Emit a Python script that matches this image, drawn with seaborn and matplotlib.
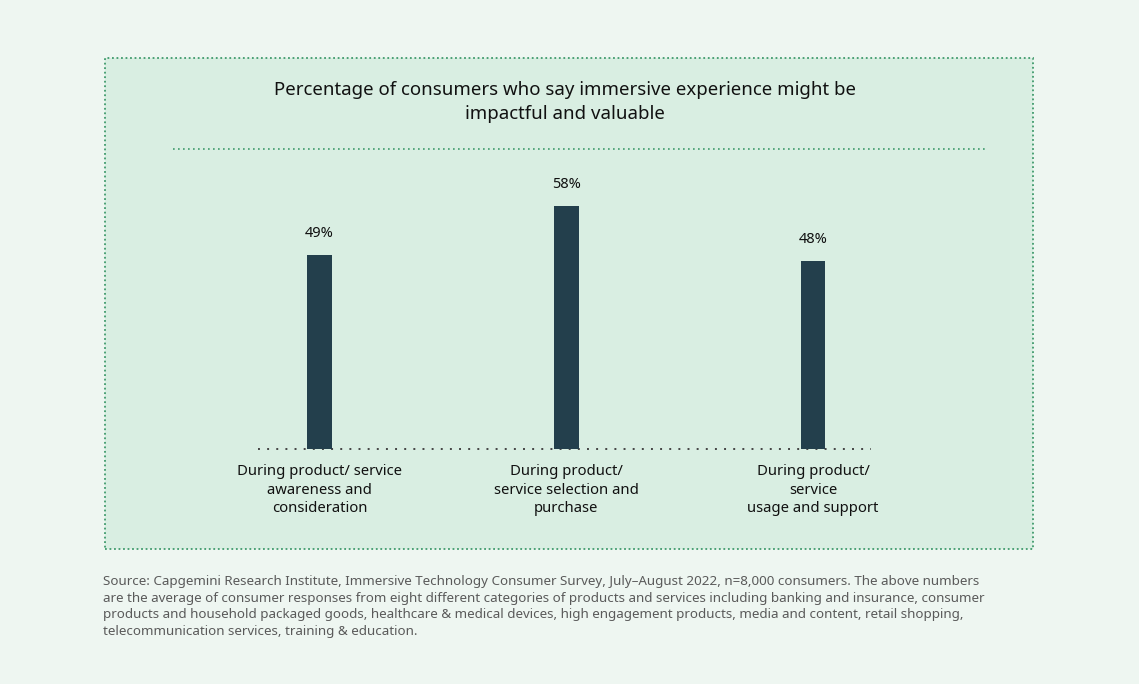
import matplotlib
matplotlib.use("Agg")
import matplotlib.pyplot as plt
from matplotlib.patches import Rectangle
from matplotlib.lines import Line2D
import seaborn as sns
import pandas as pd

# data
stages = ["During product/ service\nawareness and\nconsideration",
          "During product/\nservice selection and\npurchase",
          "During product/\nservice\nusage and support"]
shares = [49, 58, 48]
value_labels = ["49%", "58%", "48%"]

title = "Percentage of consumers who say immersive experience might be\nimpactful and valuable"
source = ("Source: Capgemini Research Institute, Immersive Technology Consumer Survey, July\u2013August 2022, n=8,000 consumers. The above numbers\n"
          "are the average of consumer responses from eight different categories of products and services including banking and insurance, consumer\n"
          "products and household packaged goods, healthcare & medical devices, high engagement products, media and content, retail shopping,\n"
          "telecommunication services, training & education.")

sns.set_theme(style="white")
plt.rcParams['font.family'] = ['Noto Sans', 'DejaVu Sans']

outer_bg = "#eef6f1"
inner_bg = "#d9eee2"
green = "#3f9a6c"
bar_col = "#233f4c"

W, H = 1139, 684
fig = plt.figure(figsize=(W / 100, H / 100), dpi=100)
fig.patch.set_facecolor(outer_bg)

# inner panel with dotted border
panel = Rectangle((105 / W, 1 - 549 / H), (1033 - 105) / W, (549 - 58) / H,
                  transform=fig.transFigure, facecolor=inner_bg,
                  edgecolor=green, linewidth=1.3, linestyle=(0, (1, 1.5)), zorder=-5)
fig.add_artist(panel)

# separator under the title
fig.add_artist(Line2D([173 / W, 986 / W], [1 - 149 / H, 1 - 149 / H], transform=fig.transFigure,
                      color=green, linewidth=1.2, linestyle=(0, (1, 2))))

fig.text(565 / W, 1 - 102 / H, title, ha="center", va="center", fontsize=13.4,
         color="#111111", linespacing=1.36)

fig.text(103 / W, 1 - 575 / H, source, ha="left", va="top", fontsize=9.65,
         color="#5a5a5a", linespacing=1.36)

ax = fig.add_axes([258 / W, 1 - 449 / H, (871 - 258) / W, 300 / H])
ax.set_facecolor("none")

df = pd.DataFrame({"stage": stages, "share": shares})
sns.barplot(data=df, x="stage", y="share", color=bar_col, width=0.1, saturation=1,
            linewidth=0, ax=ax)

ax.set_xlim(-0.25, 2.235)
ax.set_ylim(13.4, 68.5)
ax.bar_label(ax.containers[0], labels=value_labels, padding=10, fontsize=10.5, color="#111111")

for s in ["top", "right", "left"]:
    ax.spines[s].set_visible(False)
ax.spines["bottom"].set_color("#444444")
ax.spines["bottom"].set_linewidth(1.4)
ax.spines["bottom"].set_linestyle((0, (1, 3.7)))
ax.spines["bottom"].set_capstyle("butt")
ax.spines["bottom"].set_zorder(0)
ax.set_yticks([])
ax.set_xlabel("")
ax.set_ylabel("")
ax.tick_params(axis="x", length=0, pad=11, labelsize=10.7, labelcolor="#111111")
for t in ax.get_xticklabels():
    t.set_linespacing(1.3)

fig.savefig("out.png", dpi=100, facecolor=fig.get_facecolor())
